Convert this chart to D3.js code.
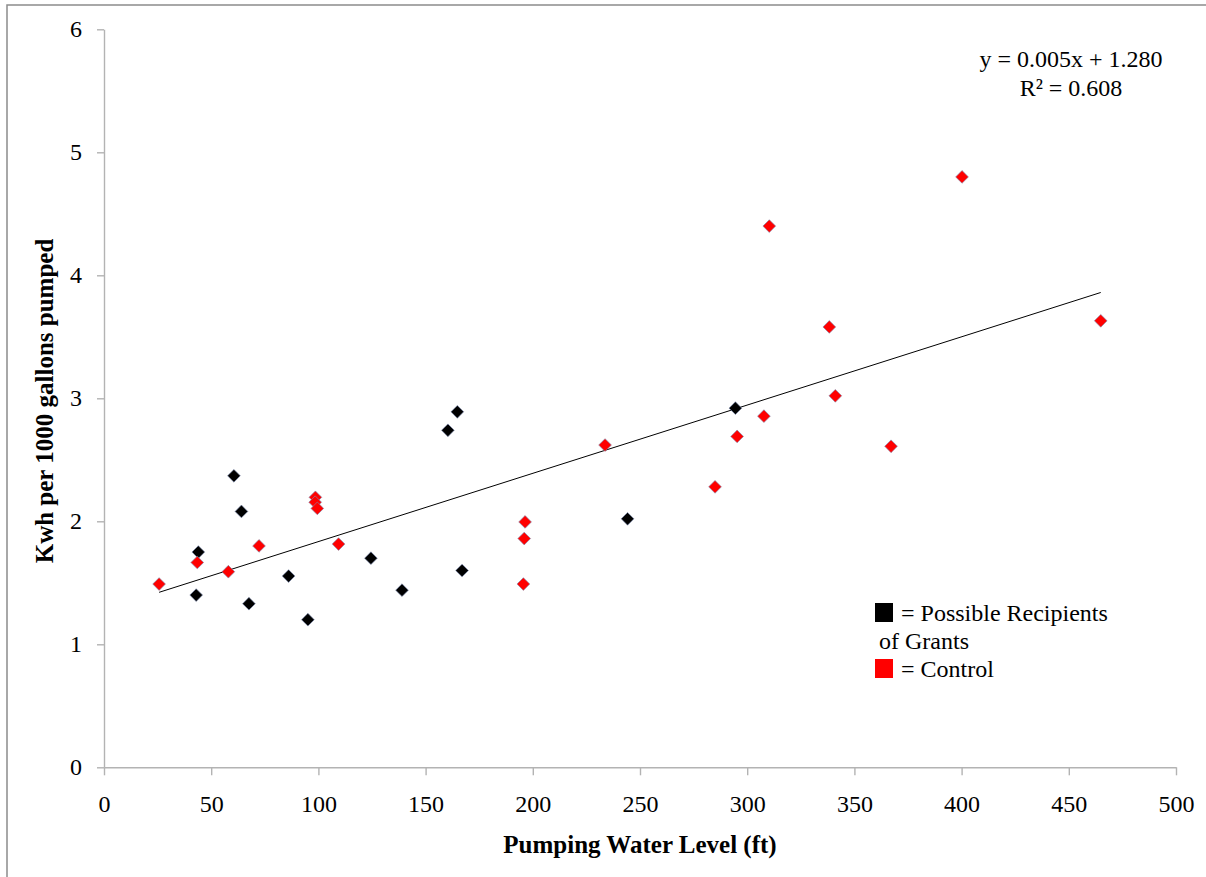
<!DOCTYPE html>
<html>
<head>
<meta charset="utf-8">
<script src="https://cdn.jsdelivr.net/npm/d3@7"></script>
<style>
  body { margin: 0; background: #fff; }
  text { font-family: "Liberation Serif", "DejaVu Serif", serif; }
</style>
</head>
<body>
<div id="chart"></div>
<script>
// data
const grantX = [43, 44, 60.6, 64.1, 67.6, 86.1, 95.1, 124.5, 139, 160.4, 164.8, 167, 244.2, 294.5];
const grantY = [1.40, 1.75, 2.37, 2.08, 1.33, 1.555, 1.20, 1.70, 1.44, 2.74, 2.89, 1.60, 2.02, 2.92];

const controlX = [25.7, 43.5, 58, 72.3, 98.6, 98.5, 99.5, 109.4, 195.6, 196, 196.4, 233.7, 285, 295.3, 307.8, 310.3, 338.3, 341.1, 367.1, 400.2, 464.9];
const controlY = [1.49, 1.665, 1.59, 1.80, 2.195, 2.155, 2.105, 1.815, 1.49, 1.86, 1.995, 2.62, 2.28, 2.69, 2.855, 4.40, 3.58, 3.02, 2.61, 4.80, 3.63];

const xTicks = [0, 50, 100, 150, 200, 250, 300, 350, 400, 450, 500];
const yTicks = [0, 1, 2, 3, 4, 5, 6];

// trend line as drawn (label shows rounded coefficients)
const trendX = [25.7, 464.9];
const trendSlope = 0.00555, trendIntercept = 1.28;
const equationLines = ["y = 0.005x + 1.280", "R\u00b2 = 0.608"];

const legendItems = [
  { color: "#000000", lines: ["= Possible Recipients", "of Grants"] },
  { color: "#ff0000", lines: ["= Control"] }
];

const W = 1206, H = 877;
const svg = d3.select("#chart").append("svg")
    .attr("width", W)
    .attr("height", H);

// outer chart border (only left/top visible in the frame)
svg.append("rect")
    .attr("x", 7).attr("y", 5)
    .attr("width", W + 20).attr("height", H + 20)
    .attr("fill", "none")
    .attr("stroke", "#8c8c8c")
    .attr("stroke-width", 1.5);

const x = d3.scaleLinear().domain([0, 500]).range([104, 1176]);
const y = d3.scaleLinear().domain([0, 6]).range([767.3, 29.3]);

const gx = svg.append("g")
    .attr("transform", `translate(0,${y(0)})`)
    .call(d3.axisBottom(x).tickValues(xTicks).tickFormat(d3.format("d"))
        .tickSizeInner(8).tickSizeOuter(0).tickPadding(20));
const gy = svg.append("g")
    .attr("transform", `translate(${x(0)},0)`)
    .call(d3.axisLeft(y).tickValues(yTicks).tickFormat(d3.format("d"))
        .tickSizeInner(7).tickSizeOuter(0).tickPadding(15));

[gx, gy].forEach(g => {
  g.selectAll("path, line").attr("stroke", "#b3b3b3").attr("stroke-width", 1.4);
  g.selectAll("text")
      .attr("font-family", "Liberation Serif")
      .attr("font-size", 24)
      .attr("fill", "#000");
});

// trend line
svg.append("line")
    .attr("x1", x(trendX[0])).attr("y1", y(trendIntercept + trendSlope * trendX[0]))
    .attr("x2", x(trendX[1])).attr("y2", y(trendIntercept + trendSlope * trendX[1]))
    .attr("stroke", "#000")
    .attr("stroke-width", 1);

const diamond = d3.symbol().type(d3.symbolSquare).size(81);

function drawSeries(xs, ys, color) {
  svg.append("g").selectAll("path")
      .data(xs.map((v, i) => [v, ys[i]]))
      .join("path")
      .attr("d", diamond)
      .attr("transform", d => `translate(${x(d[0])},${y(d[1])}) rotate(45)`)
      .attr("fill", color)
      .attr("stroke", "#7d8cb0")
      .attr("stroke-width", 0.6);
}
drawSeries(grantX, grantY, "#000000");
drawSeries(controlX, controlY, "#ff0000");

// equation label
svg.append("text")
    .attr("x", 1071).attr("y", 67)
    .attr("text-anchor", "middle")
    .attr("font-size", 24)
    .text(equationLines[0]);
svg.append("text")
    .attr("x", 1071).attr("y", 96)
    .attr("text-anchor", "middle")
    .attr("font-size", 24)
    .text(equationLines[1]);

// legend
let ly = 621;
legendItems.forEach(item => {
  svg.append("rect")
      .attr("x", 875).attr("y", ly - 18)
      .attr("width", 18).attr("height", 19)
      .attr("fill", item.color);
  item.lines.forEach((t, i) => {
    svg.append("text")
        .attr("x", i === 0 ? 901 : 879)
        .attr("y", ly)
        .attr("font-size", 24)
        .text(t);
    ly += 28;
  });
});

// axis titles
svg.append("text")
    .attr("x", 640).attr("y", 853)
    .attr("text-anchor", "middle")
    .attr("font-size", 25)
    .attr("font-weight", "bold")
    .text("Pumping Water Level (ft)");
svg.append("text")
    .attr("transform", "translate(53,401) rotate(-90)")
    .attr("text-anchor", "middle")
    .attr("font-size", 25)
    .attr("font-weight", "bold")
    .text("Kwh per 1000 gallons pumped");
</script>
</body>
</html>
